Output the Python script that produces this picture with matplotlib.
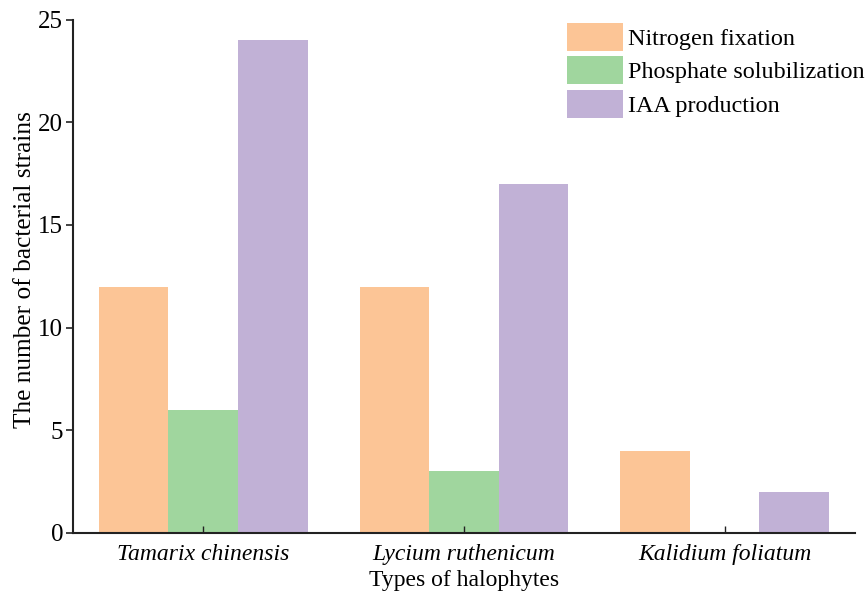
import numpy as np
import matplotlib
matplotlib.use('Agg')
import matplotlib.pyplot as plt

plt.rcParams['font.family'] = 'Liberation Serif'
plt.rcParams['font.size'] = 16

# Data
plants = ['Tamarix chinensis', 'Lycium ruthenicum', 'Kalidium foliatum']
nitrogen = [12, 12, 4]
phosphate = [6, 3, 0]
iaa = [24, 17, 2]
series = ['Nitrogen fixation', 'Phosphate solubilization', 'IAA production']
colors = ['#FCC596', '#A0D69E', '#C1B1D6']

fig = plt.figure(figsize=(8.68, 5.98), dpi=100)
ax = fig.add_axes([0.084, 0.109, 0.901, 0.858])

x = np.arange(len(plants))
w = 0.267
for i, (vals, name, c) in enumerate(zip([nitrogen, phosphate, iaa], series, colors)):
    ax.bar(x + (i - 1) * w, vals, width=w, color=c, label=name)

ax.set_xlim(-0.5, 2.5)
ax.set_ylim(0, 25)
ax.set_yticks([0, 5, 10, 15, 20, 25])
ax.set_xticks(x)
ax.set_xticklabels(plants, style='italic')
ax.tick_params(axis='x', direction='in', length=5, width=1, labelsize=17, pad=8,
               color='#222222')
ax.tick_params(axis='y', direction='out', length=5, width=1.2, labelsize=18, pad=2,
               color='#222222')
ax.spines['top'].set_visible(False)
ax.spines['right'].set_visible(False)
for s in ['left', 'bottom']:
    ax.spines[s].set_linewidth(1.5)
    ax.spines[s].set_color('#222222')

ax.set_xlabel('Types of halophytes', fontsize=17, labelpad=4)
ax.set_ylabel('The number of bacterial strains', fontsize=18.3)
ax.yaxis.set_label_coords(-0.047, 0.513)

ax.legend(loc='upper right', bbox_to_anchor=(1.025, 1.012), frameon=False,
          fontsize=17.4, handlelength=2.35, handleheight=1.4, labelspacing=0.22,
          handletextpad=0.2, borderaxespad=0)

fig.savefig('out.png', dpi=100)
